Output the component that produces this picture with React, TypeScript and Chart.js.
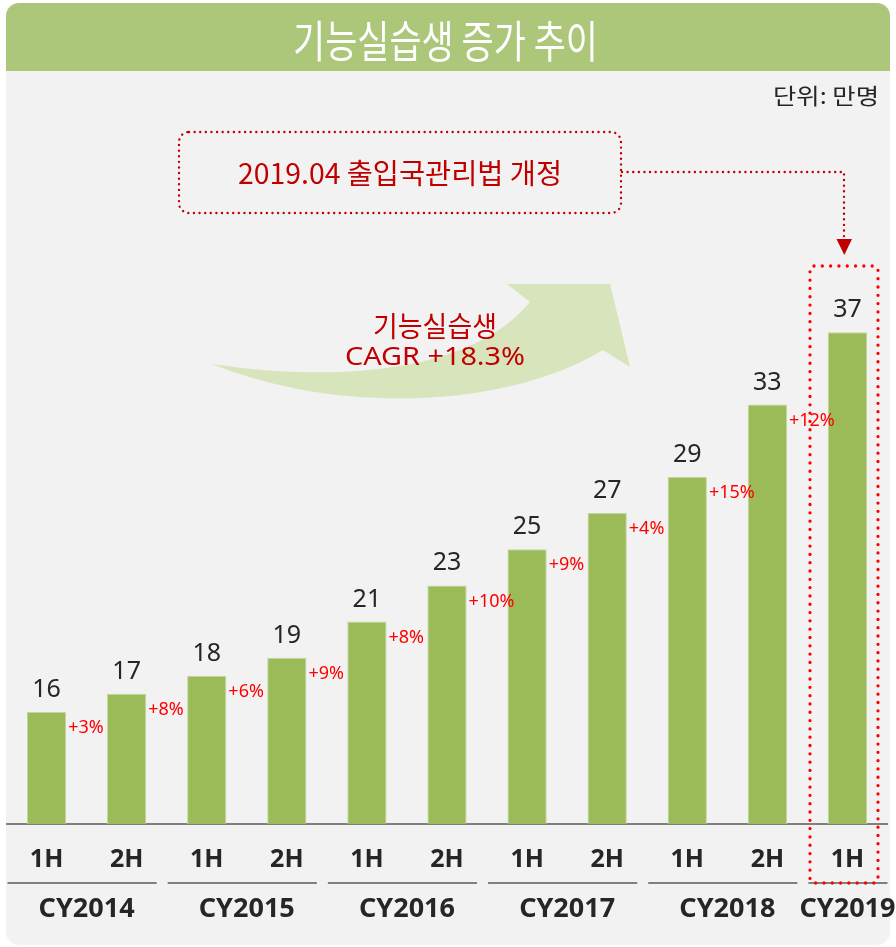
import { useEffect, useRef } from 'react';
import { Chart, registerables } from 'chart.js';

Chart.register(...registerables);

// ---- data ----
const halfLabels = ['1H', '2H', '1H', '2H', '1H', '2H', '1H', '2H', '1H', '2H', '1H'];
const yearLabels = ['CY2014', 'CY2015', 'CY2016', 'CY2017', 'CY2018', 'CY2019'];
const halvesPerYear = [2, 2, 2, 2, 2, 1];
const trainees = [16, 17, 18, 19, 21, 23, 25, 27, 29, 33, 37];
const growthLabels = ['+3%', '+8%', '+6%', '+9%', '+8%', '+10%', '+9%', '+4%', '+15%', '+12%', ''];
const titleText = '기능실습생 증가 추이';
const unitText = '단위: 만명';
const noteText = '2019.04 출입국관리법 개정';
const cagrLines = ['기능실습생', 'CAGR +18.3%'];

const W = 896;
const H = 947;
const LATIN = '"Noto Sans", "Noto Sans CJK KR", sans-serif';
const KR = '"Noto Sans CJK KR", "Noto Sans", sans-serif';
const DARK = '#262626';
const DARKRED = '#c00000';
const BAR = '#9bbb59';

function rrPath(ctx: CanvasRenderingContext2D, x: number, y: number, w: number, h: number, r: number | number[]) {
  const [tl, tr, br, bl] = Array.isArray(r) ? r : [r, r, r, r];
  ctx.beginPath();
  ctx.moveTo(x + tl, y);
  ctx.lineTo(x + w - tr, y);
  ctx.arcTo(x + w, y, x + w, y + tr, tr);
  ctx.lineTo(x + w, y + h - br);
  ctx.arcTo(x + w, y + h, x + w - br, y + h, br);
  ctx.lineTo(x + bl, y + h);
  ctx.arcTo(x, y + h, x, y + h - bl, bl);
  ctx.lineTo(x, y + tl);
  ctx.arcTo(x, y, x + tl, y, tl);
  ctx.closePath();
}

function fitText(
  ctx: CanvasRenderingContext2D,
  text: string,
  x: number,
  y: number,
  font: string,
  width: number,
  color: string,
  align: CanvasTextAlign = 'center'
) {
  ctx.save();
  ctx.font = font;
  const w = ctx.measureText(text).width;
  const s = width / w;
  ctx.translate(x, y);
  ctx.scale(s, 1);
  ctx.textAlign = align;
  ctx.textBaseline = 'middle';
  ctx.fillStyle = color;
  ctx.fillText(text, 0, 0);
  ctx.restore();
}

function dotted(ctx: CanvasRenderingContext2D, color: string, dot: number, gap: number) {
  ctx.strokeStyle = color;
  ctx.lineWidth = dot;
  ctx.lineCap = 'round';
  ctx.setLineDash([0.01, gap]);
}

const decorPlugin = {
  id: 'decor',
  beforeDraw(chart: any) {
    const ctx: CanvasRenderingContext2D = chart.ctx;
    ctx.save();
    ctx.fillStyle = '#ffffff';
    ctx.fillRect(0, 0, W, H);
    // panel
    ctx.fillStyle = '#f2f2f2';
    rrPath(ctx, 6, 3, 884, 942, 13);
    ctx.fill();
    // title bar
    ctx.fillStyle = '#adc77a';
    rrPath(ctx, 6, 3, 884, 68, [13, 13, 0, 0]);
    ctx.fill();
    fitText(ctx, titleText, 445.5, 41, `400 44px ${KR}`, 305, '#ffffff');
    // unit
    fitText(ctx, unitText, 879, 96, `400 22px ${KR}`, 106, DARK, 'right');

    // growth arrow
    ctx.fillStyle = '#d8e4bc';
    ctx.beginPath();
    ctx.moveTo(212, 364);
    ctx.bezierCurveTo(330, 382, 470, 375, 530, 302);
    ctx.lineTo(507, 284);
    ctx.lineTo(610, 284);
    ctx.lineTo(630, 367);
    ctx.lineTo(603, 350);
    ctx.bezierCurveTo(500, 412, 330, 412, 212, 364);
    ctx.closePath();
    ctx.fill();
    fitText(ctx, cagrLines[0], 435, 326, `400 28px ${KR}`, 124, DARKRED);
    fitText(ctx, cagrLines[1], 435, 358, `400 26px ${LATIN}`, 180, DARKRED);

    // note box
    ctx.save();
    dotted(ctx, DARKRED, 2.4, 5.6);
    rrPath(ctx, 179, 132, 442, 81, 10);
    ctx.stroke();
    ctx.beginPath();
    ctx.moveTo(622, 172);
    ctx.lineTo(844, 172);
    ctx.lineTo(844, 238);
    ctx.stroke();
    ctx.restore();
    ctx.fillStyle = DARKRED;
    ctx.beginPath();
    ctx.moveTo(836.5, 239);
    ctx.lineTo(852, 239);
    ctx.lineTo(844.3, 255);
    ctx.closePath();
    ctx.fill();
    fitText(ctx, noteText, 400, 173, `400 28px ${KR}`, 324, DARKRED);
    ctx.restore();
  },
  afterDatasetsDraw(chart: any) {
    const ctx: CanvasRenderingContext2D = chart.ctx;
    const meta = chart.getDatasetMeta(0);
    ctx.save();
    meta.data.forEach((bar: any, i: number) => {
      const { x, y, width } = bar.getProps(['x', 'y', 'width'], true);
      ctx.font = `400 25px ${LATIN}`;
      ctx.fillStyle = DARK;
      ctx.textAlign = 'center';
      ctx.textBaseline = 'alphabetic';
      ctx.fillText(String(trainees[i]), x, y - 15);
      if (growthLabels[i]) {
        ctx.font = `400 18px ${LATIN}`;
        ctx.fillStyle = '#ff0000';
        ctx.textAlign = 'left';
        ctx.textBaseline = 'middle';
        ctx.fillText(growthLabels[i], x + width / 2 + 2, y + 16);
      }
    });
    // year groups
    const xs = chart.scales.x;
    const cw = xs.getPixelForValue(1) - xs.getPixelForValue(0);
    let idx = 0;
    yearLabels.forEach((lab, g) => {
      const first = idx;
      const last = idx + halvesPerYear[g] - 1;
      idx += halvesPerYear[g];
      const start = xs.getPixelForValue(first) - cw / 2;
      const end = xs.getPixelForValue(last) + cw / 2;
      const isLast = g === yearLabels.length - 1;
      ctx.strokeStyle = '#808080';
      ctx.lineWidth = 2;
      ctx.beginPath();
      ctx.moveTo(start + 1, 883);
      ctx.lineTo(isLast ? end : end - 10, 883);
      ctx.stroke();
      ctx.font = `700 27px ${LATIN}`;
      ctx.fillStyle = DARK;
      ctx.textAlign = 'center';
      ctx.textBaseline = 'middle';
      ctx.fillText(lab, (xs.getPixelForValue(first) + xs.getPixelForValue(last)) / 2, 909);
    });
    ctx.restore();
  },
  afterDraw(chart: any) {
    const ctx: CanvasRenderingContext2D = chart.ctx;
    ctx.save();
    dotted(ctx, '#ff0000', 3.3, 8.3);
    rrPath(ctx, 810, 266, 68, 617, 4);
    ctx.stroke();
    ctx.restore();
  },
};

export default function App() {
  const ref = useRef<HTMLCanvasElement | null>(null);
  useEffect(() => {
    if (!ref.current) return;
    const chart = new Chart(ref.current, {
      type: 'bar',
      data: {
        labels: halfLabels,
        datasets: [
          {
            data: trainees,
            backgroundColor: BAR,
            borderColor: '#c3d69b',
            borderWidth: 1,
            barPercentage: 0.49,
            categoryPercentage: 1,
          },
        ],
      },
      options: {
        responsive: false,
        animation: false,
        devicePixelRatio: 1,
        layout: { padding: { left: 6.5, right: 8.5, top: 260, bottom: 51 } },
        plugins: { legend: { display: false }, tooltip: { enabled: false }, title: { display: false } },
        scales: {
          y: { display: false, min: 9.8, max: 41 },
          x: {
            grid: { display: false, drawTicks: false },
            border: { display: true, color: '#808080', width: 2 },
            ticks: { color: DARK, font: { family: LATIN, size: 25, weight: 'bold' }, padding: 21, maxRotation: 0 },
          },
        },
      },
      plugins: [decorPlugin],
    });
    return () => chart.destroy();
  }, []);
  return (
    <canvas
      ref={ref}
      width={W}
      height={H}
      style={{ position: 'absolute', left: 0, top: 0, width: W, height: H, display: 'block' }}
    />
  );
}
